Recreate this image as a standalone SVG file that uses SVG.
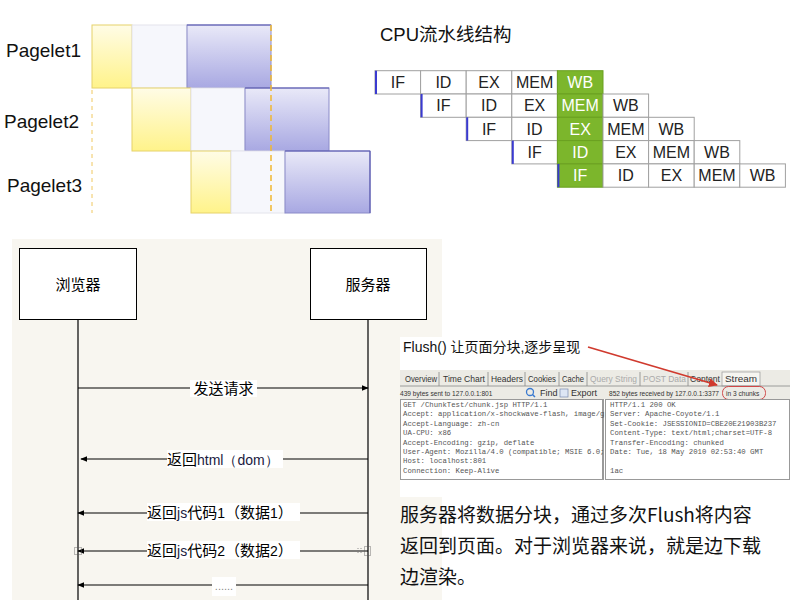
<svg xmlns="http://www.w3.org/2000/svg" width="800" height="600" viewBox="0 0 800 600">
<defs>
<linearGradient id="gy" x1="0" y1="0" x2="0" y2="1"><stop offset="0" stop-color="#fffce6"/><stop offset="1" stop-color="#fff38a"/></linearGradient>
<linearGradient id="gp" x1="0" y1="0" x2="0" y2="1"><stop offset="0" stop-color="#e9e9f8"/><stop offset="1" stop-color="#a8a8e2"/></linearGradient>
<marker id="ah" viewBox="0 0 10 10" refX="9" refY="5" markerWidth="6" markerHeight="6" orient="auto-start-reverse"><path d="M0,1 L10,5 L0,9 z" fill="#000"/></marker>
<marker id="ar" viewBox="0 0 10 10" refX="9" refY="5" markerWidth="5" markerHeight="5" orient="auto"><path d="M0,0 L10,5 L0,10 z" fill="#d03a2e"/></marker>
</defs>
<style>
.lbl{font-family:"Liberation Sans","Noto Sans CJK SC",sans-serif;fill:#111}
.pl{font-size:19px}
.y{fill:url(#gy);stroke:#e6d26a;stroke-width:1}
.l{fill:#f6f7fc;stroke:#e4e4ec;stroke-width:1}
.p{fill:url(#gp);stroke:#8a8ac8;stroke-width:1}
.cell{fill:#fff;stroke:#a0a0a0;stroke-width:1}
.g{fill:#7cb62c;stroke:#6aa020;stroke-width:1}
.ct{font-family:"Liberation Sans",sans-serif;font-size:16px;fill:#222;text-anchor:middle}
.cw{fill:#fff}
.bm{stroke:#3a3ad0;stroke-width:2}
.sq{font-family:"Noto Sans CJK SC","Liberation Sans",sans-serif;font-size:15px;fill:#000}
.box{fill:#fff;stroke:#000;stroke-width:1}
.life{stroke:#000;stroke-width:1.2}
.msg{stroke:#000;stroke-width:1.2;fill:none}
.tab{font-family:"Liberation Sans",sans-serif;font-size:9px;fill:#333}
.tg{fill:#aaa}
.sm{font-family:"Liberation Sans",sans-serif;font-size:6.6px;fill:#333}
.mono{font-family:"Liberation Mono",monospace;font-size:7.3px;fill:#555}
.big{font-family:"Noto Sans CJK SC","Liberation Sans",sans-serif;font-size:19px;fill:#111}
</style>
<rect x="0" y="0" width="800" height="600" fill="#fff"/>

<!-- Pagelets -->
<g id="pagelet1">
<text class="lbl pl" x="6" y="57">Pagelet1</text>
<rect class="y" x="92" y="25" width="40" height="63"/>
<rect class="l" x="132" y="25" width="55" height="63"/>
<rect class="p" x="187" y="25" width="84" height="63"/>
<line x1="187" y1="25" x2="271" y2="25" stroke="#5b5bb0" stroke-width="1"/>
</g>
<g id="pagelet2">
<text class="lbl pl" x="4" y="128">Pagelet2</text>
<rect class="y" x="132" y="88" width="59" height="63"/>
<rect class="l" x="191" y="88" width="54" height="63"/>
<rect class="p" x="245" y="88" width="84" height="63"/>
<line x1="245" y1="88" x2="329" y2="88" stroke="#5b5bb0" stroke-width="1"/>
</g>
<g id="pagelet3">
<text class="lbl pl" x="7" y="192">Pagelet3</text>
<rect class="y" x="191" y="151" width="40" height="62"/>
<rect class="l" x="231" y="151" width="54" height="62"/>
<rect class="p" x="285" y="151" width="85" height="62"/>
<line x1="285" y1="151" x2="370" y2="151" stroke="#5b5bb0" stroke-width="1"/>
<line x1="370" y1="151" x2="370" y2="213" stroke="#5b5bb0" stroke-width="1.2"/>
</g>
<g id="guides">
<line x1="92" y1="90" x2="92" y2="213" stroke="#f0c860" stroke-width="1" stroke-dasharray="4 4"/>
<line x1="271" y1="25" x2="271" y2="213" stroke="#f0b830" stroke-width="1.5" stroke-dasharray="6 4"/>
</g>

<!-- CPU pipeline -->
<g id="cpu">
<text class="lbl" x="380" y="41" font-size="18.5px">CPU流水线结构</text>
<g id="cpu-row1">
<rect class="cell" x="375" y="70.7" width="45.6" height="23.3"/><text class="ct" x="397.8" y="88">IF</text>
<rect class="cell" x="420.6" y="70.7" width="45.6" height="23.3"/><text class="ct" x="443.4" y="88">ID</text>
<rect class="cell" x="466.2" y="70.7" width="45.6" height="23.3"/><text class="ct" x="489" y="88">EX</text>
<rect class="cell" x="511.8" y="70.7" width="45.6" height="23.3"/><text class="ct" x="534.6" y="88">MEM</text>
<rect class="g" x="557.4" y="70.7" width="45.6" height="23.3"/><text class="ct cw" x="580.2" y="88">WB</text>
<line class="bm" x1="376" y1="70.7" x2="376" y2="94"/>
</g>
<g id="cpu-row2">
<rect class="cell" x="420.6" y="94" width="45.6" height="23.3"/><text class="ct" x="443.4" y="111.3">IF</text>
<rect class="cell" x="466.2" y="94" width="45.6" height="23.3"/><text class="ct" x="489" y="111.3">ID</text>
<rect class="cell" x="511.8" y="94" width="45.6" height="23.3"/><text class="ct" x="534.6" y="111.3">EX</text>
<rect class="g" x="557.4" y="94" width="45.6" height="23.3"/><text class="ct cw" x="580.2" y="111.3">MEM</text>
<rect class="cell" x="603" y="94" width="45.6" height="23.3"/><text class="ct" x="625.8" y="111.3">WB</text>
<line class="bm" x1="421.6" y1="94" x2="421.6" y2="117.3"/>
</g>
<g id="cpu-row3">
<rect class="cell" x="466.2" y="117.3" width="45.6" height="23.3"/><text class="ct" x="489" y="134.6">IF</text>
<rect class="cell" x="511.8" y="117.3" width="45.6" height="23.3"/><text class="ct" x="534.6" y="134.6">ID</text>
<rect class="g" x="557.4" y="117.3" width="45.6" height="23.3"/><text class="ct cw" x="580.2" y="134.6">EX</text>
<rect class="cell" x="603" y="117.3" width="45.6" height="23.3"/><text class="ct" x="625.8" y="134.6">MEM</text>
<rect class="cell" x="648.6" y="117.3" width="45.6" height="23.3"/><text class="ct" x="671.4" y="134.6">WB</text>
<line class="bm" x1="467.2" y1="117.3" x2="467.2" y2="140.6"/>
</g>
<g id="cpu-row4">
<rect class="cell" x="511.8" y="140.6" width="45.6" height="23.3"/><text class="ct" x="534.6" y="157.9">IF</text>
<rect class="g" x="557.4" y="140.6" width="45.6" height="23.3"/><text class="ct cw" x="580.2" y="157.9">ID</text>
<rect class="cell" x="603" y="140.6" width="45.6" height="23.3"/><text class="ct" x="625.8" y="157.9">EX</text>
<rect class="cell" x="648.6" y="140.6" width="45.6" height="23.3"/><text class="ct" x="671.4" y="157.9">MEM</text>
<rect class="cell" x="694.2" y="140.6" width="45.6" height="23.3"/><text class="ct" x="717" y="157.9">WB</text>
<line class="bm" x1="512.8" y1="140.6" x2="512.8" y2="163.9"/>
</g>
<g id="cpu-row5">
<rect class="g" x="557.4" y="163.9" width="45.6" height="23.3"/><text class="ct cw" x="580.2" y="181.2">IF</text>
<rect class="cell" x="603" y="163.9" width="45.6" height="23.3"/><text class="ct" x="625.8" y="181.2">ID</text>
<rect class="cell" x="648.6" y="163.9" width="45.6" height="23.3"/><text class="ct" x="671.4" y="181.2">EX</text>
<rect class="cell" x="694.2" y="163.9" width="45.6" height="23.3"/><text class="ct" x="717" y="181.2">MEM</text>
<rect class="cell" x="739.8" y="163.9" width="45.6" height="23.3"/><text class="ct" x="762.6" y="181.2">WB</text>
<line class="bm" x1="558.4" y1="163.9" x2="558.4" y2="187.2"/>
</g>
</g>

<!-- Sequence diagram -->
<rect x="12" y="239" width="430" height="361" fill="#f8f6f0"/>
<g id="browser">
<rect class="box" x="19.5" y="248.5" width="117" height="71"/>
<text class="sq" x="78" y="290" text-anchor="middle">浏览器</text>
</g>
<g id="server">
<rect class="box" x="310.5" y="248.5" width="116" height="71"/>
<text class="sq" x="368" y="290" text-anchor="middle">服务器</text>
</g>
<g id="lifelines">
<line class="life" x1="78" y1="320" x2="78" y2="600"/>
<line class="life" x1="368" y1="320" x2="368" y2="600"/>
</g>
<g id="connectors">
<line class="msg" x1="78" y1="388" x2="368" y2="388" marker-end="url(#ah)"/>
<line class="msg" x1="368" y1="459" x2="81" y2="459" marker-end="url(#ah)"/>
<line class="msg" x1="368" y1="513" x2="78" y2="513" marker-end="url(#ah)"/>
<line class="msg" x1="368" y1="551" x2="78" y2="551" marker-end="url(#ah)"/>
<line class="msg" x1="368" y1="585" x2="78" y2="585" marker-end="url(#ah)"/>
<rect x="74.5" y="547.5" width="7" height="7" fill="none" stroke="#555" stroke-width="0.8" stroke-dasharray="1 1"/>
<rect x="364.5" y="546.5" width="6" height="9" fill="none" stroke="#555" stroke-width="0.8" stroke-dasharray="1 1"/>
<path d="M358,548 v6 M361,548 v6" stroke="#777" stroke-width="0.8" stroke-dasharray="1 1"/>
<g id="msg-labels">
<rect x="190" y="380" width="67" height="17" fill="#fff"/>
<text class="sq" x="223.5" y="394" text-anchor="middle">发送请求</text>
<rect x="167" y="450" width="116" height="18" fill="#fff"/>
<text class="sq" x="167" y="465">返回<tspan font-family="Liberation Sans,sans-serif" font-size="14px" fill="#1a1a40">html（dom）</tspan></text>
<rect x="147" y="503" width="153" height="18" fill="#fff"/>
<text class="sq" x="147" y="518">返回<tspan font-family="Liberation Sans,sans-serif" font-size="14px" fill="#1a1a40">js</tspan>代码<tspan font-family="Liberation Sans,sans-serif" font-size="14px">1</tspan>（数据<tspan font-family="Liberation Sans,sans-serif" font-size="14px">1</tspan>）</text>
<rect x="147" y="541" width="153" height="18" fill="#fff"/>
<text class="sq" x="147" y="556">返回<tspan font-family="Liberation Sans,sans-serif" font-size="14px" fill="#1a1a40">js</tspan>代码<tspan font-family="Liberation Sans,sans-serif" font-size="14px">2</tspan>（数据<tspan font-family="Liberation Sans,sans-serif" font-size="14px">2</tspan>）</text>
<rect x="212" y="577" width="24" height="19" fill="#fff"/>
<text x="224" y="590" text-anchor="middle" font-family="Liberation Sans,sans-serif" font-size="11px" fill="#888">......</text>
</g>
</g>

<!-- Screenshot -->
<g id="screenshot">
<rect x="400" y="337" width="400" height="160" fill="#fff"/>
<text class="lbl" x="403" y="352" font-size="14px">Flush() 让页面分块,逐步呈现</text>
<rect x="400" y="370" width="390" height="29" fill="#ecebe5"/>
<rect x="722" y="372" width="38" height="14" fill="#f6f5f0" stroke="#999" stroke-width="0.7"/>
<g stroke="#888" stroke-width="0.8">
<line x1="439" y1="372" x2="439" y2="386"/><line x1="488" y1="372" x2="488" y2="386"/><line x1="525" y1="372" x2="525" y2="386"/><line x1="559" y1="372" x2="559" y2="386"/><line x1="587" y1="372" x2="587" y2="386"/><line x1="640" y1="372" x2="640" y2="386"/><line x1="688" y1="372" x2="688" y2="386"/>
<line x1="400" y1="386" x2="790" y2="386"/>
</g>
<text class="tab" x="405" y="382" textLength="32" lengthAdjust="spacingAndGlyphs">Overview</text>
<text class="tab" x="443" y="382" textLength="42" lengthAdjust="spacingAndGlyphs">Time Chart</text>
<text class="tab" x="491" y="382" textLength="32" lengthAdjust="spacingAndGlyphs">Headers</text>
<text class="tab" x="528" y="382" textLength="28" lengthAdjust="spacingAndGlyphs">Cookies</text>
<text class="tab" x="562" y="382" textLength="22" lengthAdjust="spacingAndGlyphs">Cache</text>
<text class="tab tg" x="590" y="382" textLength="47" lengthAdjust="spacingAndGlyphs">Query String</text>
<text class="tab tg" x="643" y="382" textLength="43" lengthAdjust="spacingAndGlyphs">POST Data</text>
<text class="tab" x="690" y="382" textLength="30" lengthAdjust="spacingAndGlyphs">Content</text>
<text class="tab" x="725" y="382" textLength="32" lengthAdjust="spacingAndGlyphs">Stream</text>
<text class="sm" x="400" y="396">439 bytes sent to 127.0.0.1:801</text>
<circle cx="530" cy="392" r="3.5" fill="none" stroke="#3a7ad0" stroke-width="1.3"/>
<line x1="532.5" y1="394.5" x2="535" y2="397" stroke="#3a7ad0" stroke-width="1.5"/>
<text class="tab" x="540" y="396">Find</text>
<rect x="560" y="389" width="8" height="8" fill="#dde6f4" stroke="#7a8ab0" stroke-width="0.7"/>
<text class="tab" x="571" y="396">Export</text>
<text class="sm" x="609" y="396">852 bytes received by 127.0.0.1:3377</text>
<text class="sm" x="726" y="396">in 3 chunks</text>
<rect x="722.5" y="386.5" width="43" height="13" rx="6" fill="none" stroke="#d04848" stroke-width="1"/>
<rect x="400.5" y="399.5" width="202" height="80" fill="#fff" stroke="#999" stroke-width="1"/>
<rect x="605.5" y="399.5" width="184" height="80" fill="#fff" stroke="#999" stroke-width="1"/>
<line x1="603.5" y1="399" x2="603.5" y2="480" stroke="#999"/>
<g class="mono">
<text x="403" y="407">GET /ChunkTest/chunk.jsp HTTP/1.1</text>
<text x="403" y="416.4">Accept: application/x-shockwave-flash, image/g</text>
<text x="403" y="425.8">Accept-Language: zh-cn</text>
<text x="403" y="435.2">UA-CPU: x86</text>
<text x="403" y="444.6">Accept-Encoding: gzip, deflate</text>
<text x="403" y="454">User-Agent: Mozilla/4.0 (compatible; MSIE 6.0;</text>
<text x="403" y="463.4">Host: localhost:801</text>
<text x="403" y="472.8">Connection: Keep-Alive</text>
<text x="610" y="407">HTTP/1.1 200 OK</text>
<text x="610" y="416.4">Server: Apache-Coyote/1.1</text>
<text x="610" y="425.8">Set-Cookie: JSESSIONID=CBE20E21903B237</text>
<text x="610" y="435.2">Content-Type: text/html;charset=UTF-8</text>
<text x="610" y="444.6">Transfer-Encoding: chunked</text>
<text x="610" y="454">Date: Tue, 18 May 2010 02:53:40 GMT</text>
<text x="610" y="472.8">1ac</text>
</g>
<line x1="588" y1="347" x2="717" y2="385" stroke="#d03a2e" stroke-width="1.8" marker-end="url(#ar)"/>
</g>

<g id="caption">
<text class="big" x="400" y="522">服务器将数据分块，通过多次Flush将内容</text>
<text class="big" x="400" y="553">返回到页面。对于浏览器来说，就是边下载</text>
<text class="big" x="400" y="584">边渲染。</text>
</g>
</svg>
